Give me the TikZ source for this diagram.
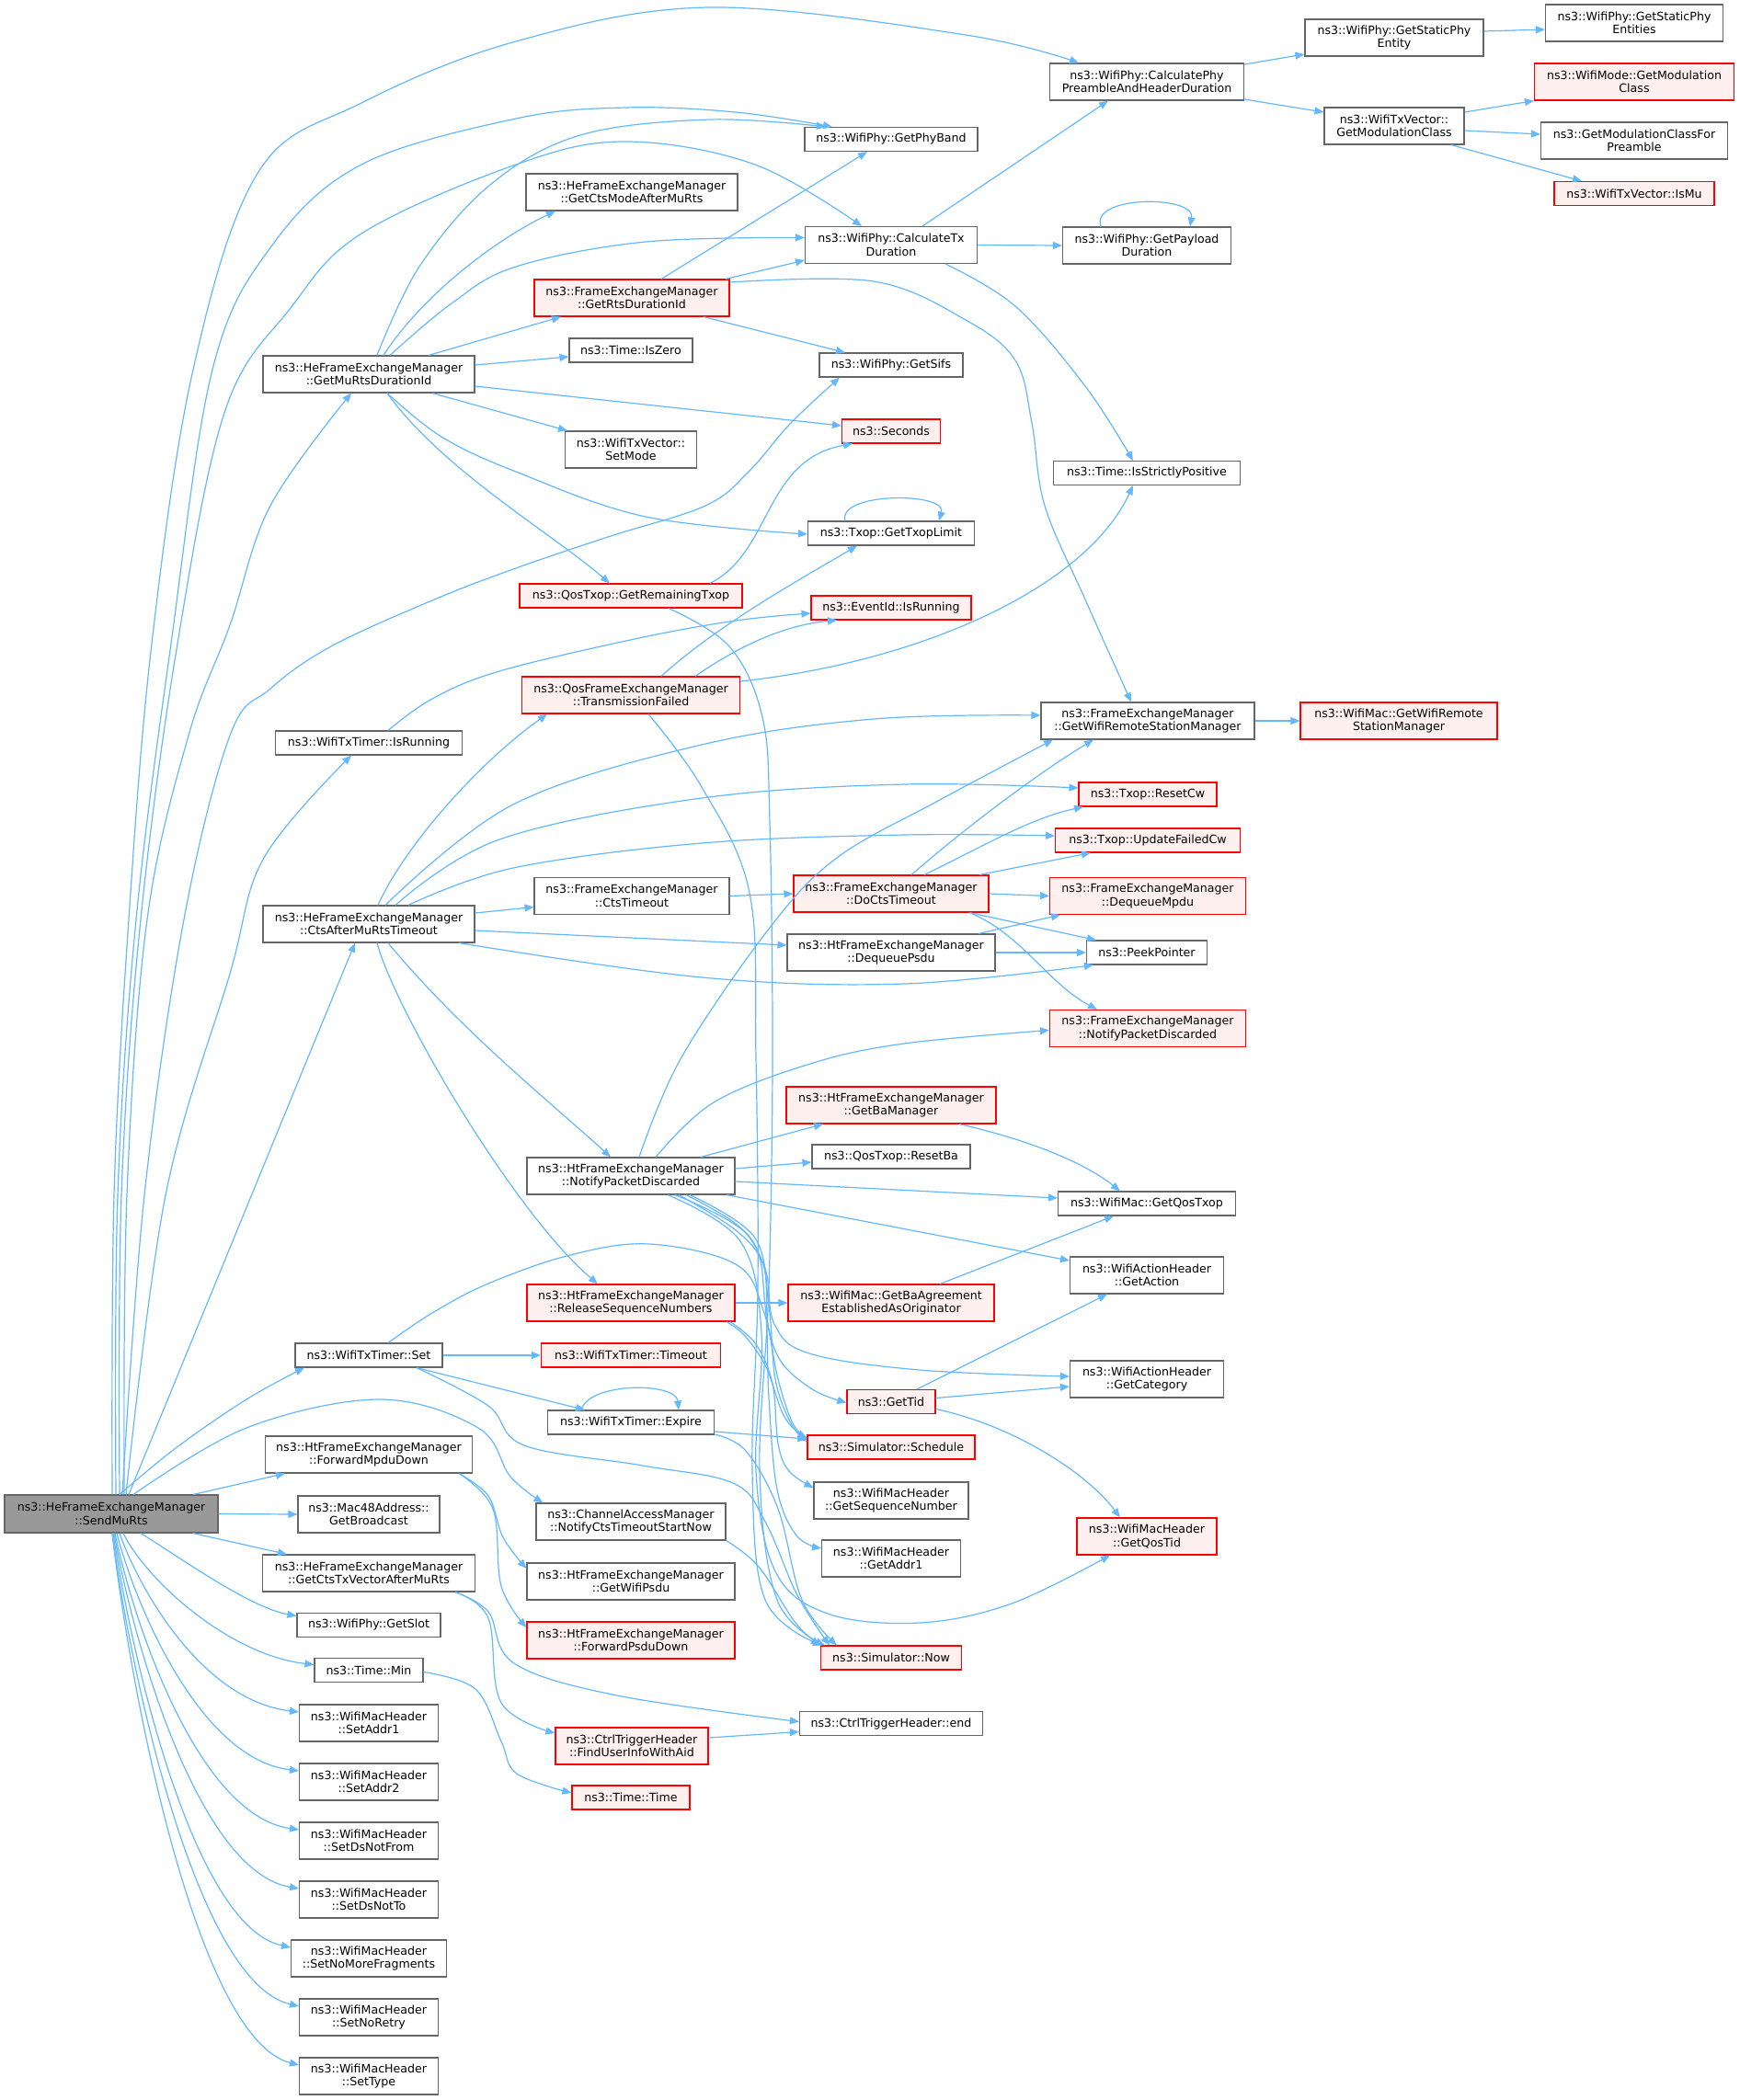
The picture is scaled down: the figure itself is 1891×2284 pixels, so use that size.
\documentclass[tikz,border=0pt]{standalone}
\usepackage{fontspec}
\setmainfont{DejaVu Sans}
\usetikzlibrary{arrows.meta}
\definecolor{edgec}{HTML}{63B8FF}
\definecolor{grey40}{HTML}{666666}
\definecolor{grey60}{HTML}{999999}
\definecolor{pinkf}{HTML}{FFF0F0}
\definecolor{redb}{HTML}{FF0000}
\begin{document}
\begin{tikzpicture}[x=1pt,y=-1pt,
  nb/.style={draw=grey40, fill=white, line width=1.1pt, inner sep=0pt, align=center, font=\fontsize{12.6}{14.5}\selectfont},
  rb/.style={nb, draw=redb, fill=pinkf},
  gb/.style={nb, fill=grey60},
  edg/.style={draw=edgec, line width=1.2pt, -{Triangle[length=10pt,width=8pt]}}]
\fill[white] (0,0) rectangle (1891,2284);
\useasboundingbox (0,0) rectangle (1891,2284);
% column 7
\node[nb, minimum width=193pt, minimum height=40pt] (n_gspe) at (1777,25) {ns3::WifiPhy::GetStaticPhy\\Entities};
\node[rb, minimum width=217pt, minimum height=40pt] (n_wmgmc) at (1777,89) {ns3::WifiMode::GetModulation\\Class};
\node[nb, minimum width=203pt, minimum height=40pt] (n_gmcfp) at (1777,153) {ns3::GetModulationClassFor\\Preamble};
\node[rb, minimum width=174pt, minimum height=26pt] (n_ismu) at (1777,210.5) {ns3::WifiTxVector::IsMu};
% column 6
\node[nb, minimum width=194pt, minimum height=40pt] (n_gspe1) at (1516,41) {ns3::WifiPhy::GetStaticPhy\\Entity};
\node[nb, minimum width=152pt, minimum height=40pt] (n_txvgmc) at (1516,137) {ns3::WifiTxVector::\\GetModulationClass};
\node[rb, minimum width=214pt, minimum height=40pt] (n_macgwrsm) at (1521,784) {ns3::WifiMac::GetWifiRemote\\StationManager};
% column 5
\node[nb, minimum width=211pt, minimum height=40pt] (n_cphd) at (1247,89) {ns3::WifiPhy::CalculatePhy\\PreambleAndHeaderDuration};
\node[nb, minimum width=183pt, minimum height=40pt] (n_gpd) at (1247,267) {ns3::WifiPhy::GetPayload\\Duration};
\node[nb, minimum width=203pt, minimum height=26pt] (n_isp) at (1247,514.5) {ns3::Time::IsStrictlyPositive};
\node[nb, minimum width=232pt, minimum height=40pt] (n_fgwrsm) at (1248,784) {ns3::FrameExchangeManager\\::GetWifiRemoteStationManager};
\node[rb, minimum width=150pt, minimum height=26pt] (n_resetcw) at (1248,864) {ns3::Txop::ResetCw};
\node[rb, minimum width=201pt, minimum height=26pt] (n_ufcw) at (1248,914) {ns3::Txop::UpdateFailedCw};
\node[rb, minimum width=213pt, minimum height=40pt] (n_dqmpdu) at (1248,974.5) {ns3::FrameExchangeManager\\::DequeueMpdu};
\node[nb, minimum width=131pt, minimum height=26pt] (n_peek) at (1247,1036) {ns3::PeekPointer};
\node[rb, minimum width=213pt, minimum height=40pt] (n_fnpd) at (1248,1118.5) {ns3::FrameExchangeManager\\::NotifyPacketDiscarded};
\node[nb, minimum width=193pt, minimum height=26pt] (n_gqt) at (1247,1309) {ns3::WifiMac::GetQosTxop};
\node[nb, minimum width=167pt, minimum height=40pt] (n_gact) at (1247,1387) {ns3::WifiActionHeader\\::GetAction};
\node[nb, minimum width=167pt, minimum height=40pt] (n_gcat) at (1247,1500) {ns3::WifiActionHeader\\::GetCategory};
\node[rb, minimum width=152pt, minimum height=40pt] (n_gqtid) at (1247,1671) {ns3::WifiMacHeader\\::GetQosTid};
% column 4
\node[nb, minimum width=188pt, minimum height=26pt] (n_gpb) at (969,151.5) {ns3::WifiPhy::GetPhyBand};
\node[nb, minimum width=187pt, minimum height=40pt] (n_ctd) at (969,266.5) {ns3::WifiPhy::CalculateTx\\Duration};
\node[nb, minimum width=156pt, minimum height=26pt] (n_sifs) at (969,397) {ns3::WifiPhy::GetSifs};
\node[rb, minimum width=107pt, minimum height=26pt] (n_sec) at (969,469) {ns3::Seconds};
\node[nb, minimum width=181pt, minimum height=26pt] (n_gtl) at (969,580) {ns3::Txop::GetTxopLimit};
\node[rb, minimum width=174pt, minimum height=26pt] (n_eir) at (969,661) {ns3::EventId::IsRunning};
\node[rb, minimum width=212pt, minimum height=40pt] (n_docts) at (969,972) {ns3::FrameExchangeManager\\::DoCtsTimeout};
\node[nb, minimum width=226pt, minimum height=40pt] (n_dqpsdu) at (969,1036) {ns3::HtFrameExchangeManager\\::DequeuePsdu};
\node[rb, minimum width=228pt, minimum height=40pt] (n_gbam) at (969,1202) {ns3::HtFrameExchangeManager\\::GetBaManager};
\node[nb, minimum width=172pt, minimum height=26pt] (n_rba) at (969,1258) {ns3::QosTxop::ResetBa};
\node[rb, minimum width=224pt, minimum height=40pt] (n_gbaeo) at (969,1417) {ns3::WifiMac::GetBaAgreement\\EstablishedAsOriginator};
\node[rb, minimum width=96pt, minimum height=26pt] (n_gtid) at (969,1524.5) {ns3::GetTid};
\node[rb, minimum width=182pt, minimum height=26pt] (n_sched) at (969,1574) {ns3::Simulator::Schedule};
\node[nb, minimum width=168pt, minimum height=40pt] (n_gsn) at (969,1632) {ns3::WifiMacHeader\\::GetSequenceNumber};
\node[nb, minimum width=151pt, minimum height=40pt] (n_ga1) at (969,1695) {ns3::WifiMacHeader\\::GetAddr1};
\node[rb, minimum width=153pt, minimum height=26pt] (n_now) at (969,1803) {ns3::Simulator::Now};
\node[nb, minimum width=199pt, minimum height=26pt] (n_cthend) at (969,1874.5) {ns3::CtrlTriggerHeader::end};
% column 3
\node[nb, minimum width=230pt, minimum height=40pt] (n_gcm) at (687,209) {ns3::HeFrameExchangeManager\\::GetCtsModeAfterMuRts};
\node[rb, minimum width=212pt, minimum height=40pt] (n_grtsd) at (687,324) {ns3::FrameExchangeManager\\::GetRtsDurationId};
\node[nb, minimum width=134pt, minimum height=26pt] (n_isz) at (686,381) {ns3::Time::IsZero};
\node[nb, minimum width=143pt, minimum height=40pt] (n_setmode) at (686,489) {ns3::WifiTxVector::\\SetMode};
\node[rb, minimum width=242pt, minimum height=26pt] (n_grt) at (686,648) {ns3::QosTxop::GetRemainingTxop};
\node[rb, minimum width=237pt, minimum height=40pt] (n_tf) at (686,756) {ns3::QosFrameExchangeManager\\::TransmissionFailed};
\node[nb, minimum width=212pt, minimum height=40pt] (n_ctsto) at (687,974.5) {ns3::FrameExchangeManager\\::CtsTimeout};
\node[nb, minimum width=226pt, minimum height=40pt] (n_hnpd) at (686,1279) {ns3::HtFrameExchangeManager\\::NotifyPacketDiscarded};
\node[rb, minimum width=226pt, minimum height=40pt] (n_rsn) at (686,1417) {ns3::HtFrameExchangeManager\\::ReleaseSequenceNumbers};
\node[rb, minimum width=195pt, minimum height=26pt] (n_timeout) at (686,1474) {ns3::WifiTxTimer::Timeout};
\node[nb, minimum width=181pt, minimum height=26pt] (n_expire) at (686,1547) {ns3::WifiTxTimer::Expire};
\node[nb, minimum width=206pt, minimum height=40pt] (n_cam) at (686,1655) {ns3::ChannelAccessManager\\::NotifyCtsTimeoutStartNow};
\node[nb, minimum width=226pt, minimum height=40pt] (n_gwp) at (686,1720) {ns3::HtFrameExchangeManager\\::GetWifiPsdu};
\node[rb, minimum width=226pt, minimum height=40pt] (n_fpd) at (686,1784) {ns3::HtFrameExchangeManager\\::ForwardPsduDown};
\node[rb, minimum width=166pt, minimum height=40pt] (n_fuia) at (687,1899) {ns3::CtrlTriggerHeader\\::FindUserInfoWithAid};
\node[rb, minimum width=128pt, minimum height=26pt] (n_tt) at (686,1955) {ns3::Time::Time};
% column 2
\node[nb, minimum width=230pt, minimum height=40pt] (n_gmrd) at (401,407) {ns3::HeFrameExchangeManager\\::GetMuRtsDurationId};
\node[nb, minimum width=203pt, minimum height=26pt] (n_tir) at (401,808) {ns3::WifiTxTimer::IsRunning};
\node[nb, minimum width=230pt, minimum height=40pt] (n_camrt) at (401,1005) {ns3::HeFrameExchangeManager\\::CtsAfterMuRtsTimeout};
\node[nb, minimum width=160pt, minimum height=26pt] (n_set) at (401,1474) {ns3::WifiTxTimer::Set};
\node[nb, minimum width=225pt, minimum height=40pt] (n_fmd) at (401,1582) {ns3::HtFrameExchangeManager\\::ForwardMpduDown};
\node[nb, minimum width=154pt, minimum height=40pt] (n_gbc) at (401,1647) {ns3::Mac48Address::\\GetBroadcast};
\node[nb, minimum width=231pt, minimum height=40pt] (n_gctv) at (401,1711) {ns3::HeFrameExchangeManager\\::GetCtsTxVectorAfterMuRts};
\node[nb, minimum width=156pt, minimum height=26pt] (n_slot) at (401,1767.5) {ns3::WifiPhy::GetSlot};
\node[nb, minimum width=118pt, minimum height=26pt] (n_min) at (401,1816.5) {ns3::Time::Min};
\node[nb, minimum width=151pt, minimum height=40pt] (n_sa1) at (401,1874) {ns3::WifiMacHeader\\::SetAddr1};
\node[nb, minimum width=151pt, minimum height=40pt] (n_sa2) at (401,1938) {ns3::WifiMacHeader\\::SetAddr2};
\node[nb, minimum width=151pt, minimum height=40pt] (n_sdnf) at (401,2002) {ns3::WifiMacHeader\\::SetDsNotFrom};
\node[nb, minimum width=151pt, minimum height=40pt] (n_sdnt) at (401,2066) {ns3::WifiMacHeader\\::SetDsNotTo};
\node[nb, minimum width=169pt, minimum height=40pt] (n_snmf) at (401,2130) {ns3::WifiMacHeader\\::SetNoMoreFragments};
\node[nb, minimum width=151pt, minimum height=40pt] (n_snr) at (401,2194) {ns3::WifiMacHeader\\::SetNoRetry};
\node[nb, minimum width=151pt, minimum height=40pt] (n_stype) at (401,2258) {ns3::WifiMacHeader\\::SetType};
% column 1
\node[gb, minimum width=232pt, minimum height=41pt] (n_root) at (121,1646.5) {ns3::HeFrameExchangeManager\\::SendMuRts};

% ---- edges from root (upwards)
\draw[edg] plot[smooth,tension=0.6] coordinates {([xshift=1]n_root.north) (124,1300) (140,1000) (165,700) (210,402) (281,187) (393,112) (561,45) (772,8) (1050,38) ([xshift=-74]n_cphd.north)};
\draw[edg] plot[smooth,tension=0.6] coordinates {([xshift=5]n_root.north) (128,1300) (148,1000) (186,700) (231,402) (295,268) (393,179) (561,129) (680,117) (800,122) ([xshift=-64]n_gpb.north)};
\draw[edg] plot[smooth,tension=0.6] coordinates {([xshift=9]n_root.north) (132,1300) (153,1000) (193,700) (245,446) (316,335) (393,254) (561,179) (680,154) (821,179) ([xshift=-32]n_ctd.north)};
\draw[edg] plot[smooth,tension=0.6] coordinates {([xshift=14]n_root.north) (138,1300) (160,1000) (205,800) (250,680) (294,550) ([xshift=-19]n_gmrd.south)};
\draw[edg] plot[smooth,tension=0.6] coordinates {([xshift=12]n_root.north) (157,1300) (200,1000) (250,800) (294,749) (360,703) (470,653) (558,619) (661,584) (767,550) (814,513) (860,460) ([xshift=-56]n_sifs.south)};
\draw[edg] plot[smooth,tension=0.6] coordinates {([xshift=16]n_root.north) (180,1300) (250,1059) (287,933) ([xshift=-19]n_tir.south)};
\draw[edg] ([xshift=19]n_root.north) -- ([xshift=-15]n_camrt.south);
\draw[edg] plot[smooth,tension=0.6] coordinates {([xshift=9]n_root.north) (191,1575) (268,1522) ([xshift=-70]n_set.south)};
\draw[edg] plot[smooth,tension=0.6] coordinates {([xshift=24]n_root.north) (268,1553) (413,1522) (520,1553) (555,1606) ([xshift=8]n_cam.north west)};
\draw[edg] ([xshift=89]n_root.north) -- ([xshift=-91]n_fmd.south);
\draw[edg] (n_root.east) -- (n_gbc.west);
\draw[edg] ([xshift=89]n_root.south) -- ([xshift=-89]n_gctv.north);
% ---- edges from root (downwards)
\draw[edg] ([xshift=32]n_root.south) .. controls (190,1690) and (270,1748) .. ([yshift=10]n_slot.west);
\draw[edg] ([xshift=13]n_root.south) .. controls (160,1720) and (250,1800) .. ([yshift=6]n_min.west);
\draw[edg] ([xshift=9]n_root.south) .. controls (150,1725) and (218,1849) .. ([yshift=12]n_sa1.west);
\draw[edg] ([xshift=6]n_root.south) .. controls (147,1745) and (217,1913) .. ([yshift=12]n_sa2.west);
\draw[edg] ([xshift=4]n_root.south) .. controls (145,1764) and (215,1974) .. ([yshift=12]n_sdnf.west);
\draw[edg] ([xshift=3]n_root.south) .. controls (144,1783) and (215,2035) .. ([yshift=12]n_sdnt.west);
\draw[edg] ([xshift=2]n_root.south) .. controls (143,1802) and (210,2095) .. ([yshift=12]n_snmf.west);
\draw[edg] ([xshift=1]n_root.south) .. controls (142,1822) and (214,2156) .. ([yshift=12]n_snr.west);
\draw[edg] ([xshift=1]n_root.south) .. controls (142,1841) and (214,2217) .. ([yshift=12]n_stype.west);

% ---- GetMuRtsDurationId
\draw[edg] plot[smooth,tension=0.6] coordinates {([xshift=9]n_gmrd.north) (456,290) (533,201) (631,147) (772,130) ([xshift=-71]n_gpb.north)};
\draw[edg] ([xshift=16]n_gmrd.north) .. controls (460,320) and (540,260) .. ([xshift=-83]n_gcm.south);
\draw[edg] plot[smooth,tension=0.6] coordinates {([xshift=23]n_gmrd.north) (491,330) (561,290) (702,263) ([yshift=8]n_ctd.west)};
\draw[edg] ([xshift=65]n_gmrd.north) -- ([xshift=-77]n_grtsd.south);
\draw[edg] ([yshift=10]n_gmrd.east) -- ([yshift=-7]n_isz.west);
\draw[edg] ([yshift=-13]n_gmrd.east) -- ([yshift=6]n_sec.west);
\draw[edg] ([xshift=69]n_gmrd.south) -- ([xshift=-69]n_setmode.north);
\draw[edg] plot[smooth,tension=0.6] coordinates {([xshift=20]n_gmrd.south) (480,475) (561,513) (702,562) ([yshift=-1]n_gtl.west)};
\draw[edg] ([xshift=20]n_gmrd.south) .. controls (480,510) and (600,580) .. ([xshift=-23]n_grt.north);

% ---- GetRtsDurationId
\draw[edg] ([xshift=32]n_grtsd.north) -- ([xshift=-26]n_gpb.south);
\draw[edg] ([xshift=102]n_grtsd.north) -- ([yshift=4]n_ctd.south west);
\draw[edg] ([xshift=78]n_grtsd.south) -- ([xshift=-50]n_sifs.north);
\draw[edg] plot[smooth,tension=0.6] coordinates {([yshift=17]n_grtsd.east) (950,306) (1050,348) (1104,392) (1122,460) (1136,550) (1180,652) ([xshift=-18]n_fgwrsm.north)};

% ---- CalculateTxDuration etc.
\draw[edg] ([xshift=34]n_ctd.north) -- ([xshift=-42]n_cphd.south);
\draw[edg] (n_ctd.east) -- (n_gpd.west);
\draw[edg] plot[smooth,tension=0.6] coordinates {([xshift=59]n_ctd.south) (1104,333) (1180,420) ([xshift=-15]n_isp.north)};
\draw[edg] ([xshift=-50]n_gpd.north) .. controls (1185,212) and (1300,212) .. ([xshift=47]n_gpd.north);
\draw[edg] ([yshift=19]n_cphd.east) -- ([yshift=-18]n_gspe1.west);
\draw[edg] ([yshift=-19]n_cphd.east) -- ([yshift=15]n_txvgmc.west);
\draw[edg] ([yshift=7]n_gspe1.east) -- ([yshift=-7]n_gspe.west);
\draw[edg] ([yshift=15]n_txvgmc.east) -- (n_wmgmc.south west);
\draw[edg] ([yshift=-5]n_txvgmc.east) -- ([yshift=7]n_gmcfp.west);
\draw[edg] ([xshift=62]n_txvgmc.south) -- ([xshift=-57]n_ismu.north);
\draw[edg] ([xshift=-50]n_gtl.north) .. controls (910,535) and (1030,535) .. ([xshift=52]n_gtl.north);

% ---- GetRemainingTxop, TransmissionFailed, IsRunning
\draw[edg] ([xshift=86]n_grt.north) .. controls (840,600) and (830,500) .. ([xshift=-42]n_sec.south);
\draw[edg] plot[smooth,tension=0.6] coordinates {([xshift=41]n_grt.south) (793,703) (829,780) (837,894) (840,1150) (836,1400) (826,1600) (845,1740) ([xshift=5]n_now.north west)};
\draw[edg] ([xshift=33]n_tf.north) .. controls (780,680) and (870,630) .. ([xshift=-37]n_gtl.south);
\draw[edg] ([xshift=70]n_tf.north) .. controls (800,705) and (850,680) .. ([xshift=-59]n_eir.south);
\draw[edg] ([yshift=15]n_tf.east) .. controls (1000,720) and (1180,640) .. ([xshift=-15]n_isp.south);
\draw[edg] plot[smooth,tension=0.6] coordinates {([xshift=19]n_tf.south) (763,856) (815,971) (822,1150) (824,1400) (818,1600) (832,1740) ([xshift=2]n_now.north west)};
\draw[edg] plot[smooth,tension=0.6] coordinates {([xshift=21]n_tir.north) (470,760) (543,730) (690,695) (800,675) ([yshift=-6]n_eir.west)};

% ---- CtsAfterMuRtsTimeout
\draw[edg] ([xshift=10]n_camrt.north) .. controls (440,920) and (520,830) .. ([xshift=-91]n_tf.south);
\draw[edg] plot[smooth,tension=0.6] coordinates {([xshift=18]n_camrt.north) (558,875) (763,810) (950,782) ([yshift=6]n_fgwrsm.west)};
\draw[edg] plot[smooth,tension=0.6] coordinates {([xshift=29]n_camrt.north) (543,913) (763,868) (983,853) ([yshift=7]n_resetcw.west)};
\draw[edg] plot[smooth,tension=0.6] coordinates {([xshift=43]n_camrt.north) (558,944) (763,917) (983,908) ([yshift=5]n_ufcw.west)};
\draw[edg] ([yshift=12]n_camrt.east) -- ([yshift=-12]n_ctsto.west);
\draw[edg] ([yshift=-7]n_camrt.east) -- ([yshift=8]n_dqpsdu.west);
\draw[edg] plot[smooth,tension=0.6] coordinates {([xshift=98]n_camrt.south) (763,1063) (983,1070) ([xshift=8]n_peek.south west)};
\draw[edg] ([xshift=21]n_camrt.south) .. controls (500,1120) and (600,1200) .. ([xshift=-22]n_hnpd.north);
\draw[edg] ([xshift=9]n_camrt.south) .. controls (430,1100) and (560,1320) .. ([xshift=-36]n_rsn.north);

% ---- CtsTimeout / DoCtsTimeout / DequeuePsdu
\draw[edg] (n_ctsto.east) -- (n_docts.west);
\draw[edg] ([xshift=22]n_docts.north) .. controls (1050,900) and (1130,840) .. ([xshift=-59]n_fgwrsm.south);
\draw[edg] ([xshift=36]n_docts.north) .. controls (1070,920) and (1120,890) .. ([xshift=-70]n_resetcw.south);
\draw[edg] ([xshift=96]n_docts.north) -- ([xshift=-62]n_ufcw.south);
\draw[edg] (n_docts.east) -- (n_dqmpdu.west);
\draw[edg] ([xshift=85]n_docts.south) -- ([xshift=-55]n_peek.north);
\draw[edg] ([xshift=85]n_docts.south) .. controls (1110,1015) and (1140,1070) .. ([xshift=-55]n_fnpd.north);
\draw[edg] ([xshift=95]n_dqpsdu.north) -- ([xshift=-95]n_dqmpdu.south);
\draw[edg] (n_dqpsdu.east) -- (n_peek.west);
\draw[edg] (n_fgwrsm.east) -- (n_macgwrsm.west);

% ---- HtFEM::NotifyPacketDiscarded
\draw[edg] plot[smooth,tension=0.6] coordinates {([xshift=9]n_hnpd.north) (741,1150) (837,1009) (910,933) (1020,871) ([xshift=-103]n_fgwrsm.south)};
\draw[edg] plot[smooth,tension=0.6] coordinates {([xshift=27]n_hnpd.north) (776,1199) (881,1157) (983,1135) ([yshift=-2]n_fnpd.west)};
\draw[edg] ([xshift=76]n_hnpd.north) -- ([xshift=-74]n_gbam.south);
\draw[edg] ([yshift=8]n_hnpd.east) -- ([yshift=-6]n_rba.west);
\draw[edg] ([yshift=-6]n_hnpd.east) -- ([yshift=6]n_gqt.west);
\draw[edg] ([xshift=104]n_hnpd.south) -- ([yshift=16]n_gact.west);
\draw[edg] plot[smooth,tension=0.6] coordinates {([xshift=52]n_hnpd.south) (800,1338) (830,1376) (835,1440) (850,1482) (885,1512) ([yshift=-1]n_gtid.west)};
\draw[edg] plot[smooth,tension=0.6] coordinates {([xshift=60]n_hnpd.south) (805,1335) (832,1380) (842,1440) (880,1472) (1000,1490) ([yshift=3]n_gcat.west)};
\draw[edg] plot[smooth,tension=0.6] coordinates {([xshift=64]n_hnpd.south) (820,1345) (836,1420) (843,1500) (860,1548) ([yshift=6]n_sched.west)};
\draw[edg] plot[smooth,tension=0.6] coordinates {([xshift=48]n_hnpd.south) (815,1345) (832,1420) (836,1520) (845,1620) (866,1670) ([yshift=11]n_ga1.west)};
\draw[edg] plot[smooth,tension=0.6] coordinates {([xshift=40]n_hnpd.south) (805,1350) (828,1450) (822,1600) (843,1709) (900,1755) (1000,1765) (1100,1744) ([xshift=-40]n_gqtid.south)};

% ---- ReleaseSequenceNumbers
\draw[edg] (n_rsn.east) -- (n_gbaeo.west);
\draw[edg] plot[smooth,tension=0.6] coordinates {([xshift=104]n_rsn.south) (810,1453) (833,1487) (853,1541) ([yshift=8]n_sched.west)};
\draw[edg] plot[smooth,tension=0.6] coordinates {([xshift=108]n_rsn.south) (822,1462) (840,1505) (846,1570) (858,1600) ([yshift=14]n_gsn.west)};

% ---- GetBaManager / GetBaAgreement / GetTid
\draw[edg] ([xshift=74]n_gbam.south) .. controls (1120,1240) and (1180,1265) .. ([xshift=-29]n_gqt.north);
\draw[edg] ([xshift=53]n_gbaeo.north) -- ([xshift=-36]n_gqt.south);
\draw[edg] ([xshift=28]n_gtid.north) -- ([xshift=-43]n_gact.south);
\draw[edg] ([yshift=4]n_gtid.east) -- ([yshift=-8]n_gcat.west);
\draw[edg] ([yshift=-8]n_gtid.east) .. controls (1100,1550) and (1180,1600) .. ([xshift=-29]n_gqtid.north);

% ---- WifiTxTimer::Set / Expire
\draw[edg] (n_set.east) -- (n_timeout.west);
\draw[edg] ([xshift=52]n_set.south) -- ([xshift=-50]n_expire.north);
\draw[edg] plot[smooth,tension=0.6] coordinates {([xshift=21]n_set.north) (470,1428) (531,1396) (620,1365) (706,1353) (800,1375) (830,1425) (846,1500) (862,1548) ([yshift=10]n_sched.west)};
\draw[edg] plot[smooth,tension=0.6] coordinates {([xshift=52]n_set.south) (531,1529) (570,1572) (699,1594) (797,1613) (832,1655) (867,1735) ([xshift=10]n_now.north west)};
\draw[edg] ([xshift=-54]n_expire.north) .. controls (640,1503) and (735,1503) .. ([xshift=52]n_expire.north);
\draw[edg] ([yshift=-10]n_expire.east) -- ([yshift=9]n_sched.west);
\draw[edg] plot[smooth,tension=0.6] coordinates {([yshift=-13]n_expire.east) (811,1578) (846,1641) (872,1740) ([xshift=18]n_now.north west)};
\draw[edg] plot[smooth,tension=0.6] coordinates {(n_cam.south east) (825,1704) (865,1765) (n_now.north west)};

% ---- ForwardMpduDown / GetCtsTxVectorAfterMuRts / Min
\draw[edg] plot[smooth,tension=0.6] coordinates {([xshift=98]n_fmd.south) (531,1627) (547,1672) ([yshift=14]n_gwp.west)};
\draw[edg] plot[smooth,tension=0.6] coordinates {([xshift=98]n_fmd.south) (536,1641) (545,1725) ([yshift=14]n_fpd.west)};
\draw[edg] plot[smooth,tension=0.6] coordinates {([xshift=94]n_gctv.south) (531,1753) (559,1809) (671,1844) ([yshift=2]n_cthend.west)};
\draw[edg] plot[smooth,tension=0.6] coordinates {([xshift=94]n_gctv.south) (531,1760) (545,1852) ([yshift=14]n_fuia.west)};
\draw[edg] ([yshift=9]n_fuia.east) -- ([yshift=-9]n_cthend.west);
\draw[edg] plot[smooth,tension=0.6] coordinates {([yshift=-2]n_min.east) (517,1837) (545,1894) (562,1929) ([yshift=5]n_tt.west)};
\end{tikzpicture}
\end{document}
